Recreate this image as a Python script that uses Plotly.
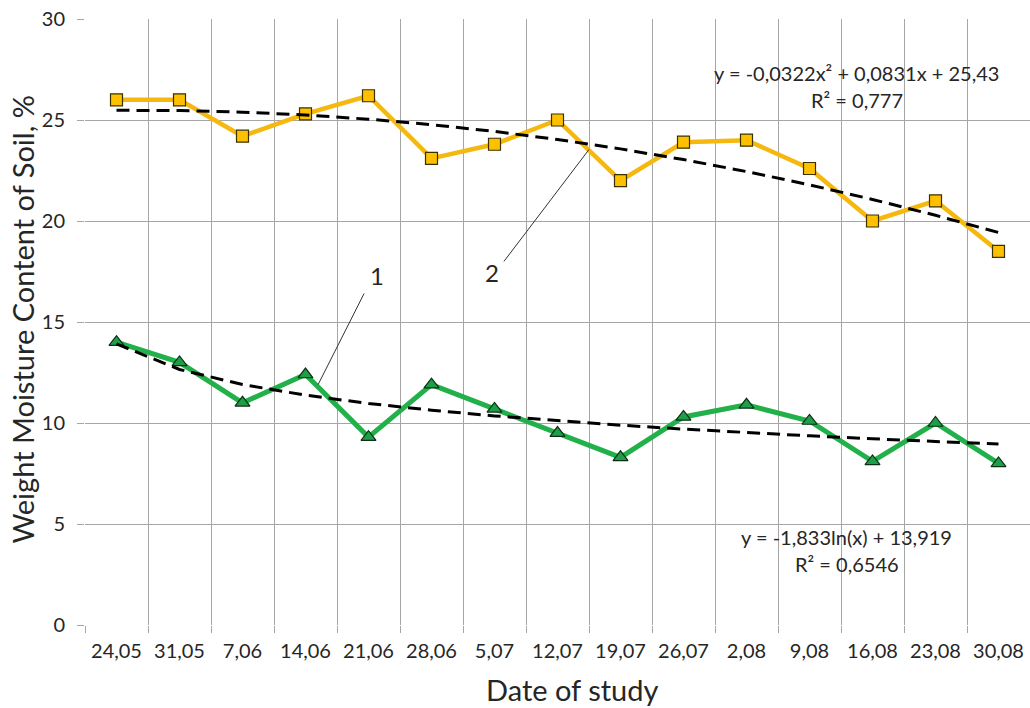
import numpy as np
import plotly.graph_objects as go

dates = ["24,05", "31,05", "7,06", "14,06", "21,06", "28,06", "5,07", "12,07",
         "19,07", "26,07", "2,08", "9,08", "16,08", "23,08", "30,08"]
series2 = [26.0, 26.0, 24.2, 25.3, 26.2, 23.1, 23.8, 25.0, 22.0, 23.9, 24.0, 22.6, 20.0, 21.0, 18.5]
series1 = [14.0, 13.0, 11.0, 12.4, 9.3, 11.9, 10.7, 9.5, 8.3, 10.3, 10.9, 10.1, 8.1, 10.0, 8.0]

# trendline coefficients as displayed in the chart
poly_a, poly_b, poly_c = -0.0322, 0.0831, 25.43
log_a, log_b = -1.833, 13.919

FONT = "Lato"
TXT = "#262626"
GRID = "#A6A6A6"

idx = np.arange(len(dates))
xn = idx + 1  # Excel trendline x (1-based)
trend2 = poly_a * xn**2 + poly_b * xn + poly_c
trend1 = log_a * np.log(xn) + log_b

fig = go.Figure()
fig.add_trace(go.Scatter(x=idx, y=series2, mode="lines+markers",
                         line=dict(color="#F5B80F", width=4.5),
                         marker=dict(symbol="square", size=12, color="#FFC000",
                                     line=dict(color="#3A3000", width=1.2)),
                         showlegend=False))
fig.add_trace(go.Scatter(x=idx, y=trend2, mode="lines",
                         line=dict(color="black", width=3, dash="13px,7px"),
                         showlegend=False))
fig.add_trace(go.Scatter(x=idx, y=series1, mode="lines+markers",
                         line=dict(color="#22B04A", width=5),
                         marker=dict(symbol="triangle-up", size=13, color="#1E9E48",
                                     line=dict(color="#0B3015", width=1.2)),
                         showlegend=False))
fig.add_trace(go.Scatter(x=idx, y=trend1, mode="lines",
                         line=dict(color="black", width=3, dash="13px,7px"),
                         showlegend=False))

# leader lines for labels 1 and 2
fig.add_shape(type="line", x0=3.93, y0=16.41, x1=3.20, y1=11.9,
              line=dict(color="#333333", width=1))
fig.add_shape(type="line", x0=6.15, y0=18.0, x1=7.5, y1=23.54,
              line=dict(color="#333333", width=1))

ann = [
    dict(x=4.13, y=17.3, text="1", size=24),
    dict(x=5.96, y=17.45, text="2", size=24),
    dict(x=11.75, y=27.35, text="y = -0,0322x² + 0,0831x + 25,43", size=20),
    dict(x=11.75, y=26.0, text="R² = 0,777", size=20),
    dict(x=11.58, y=4.38, text="y = -1,833ln(x) + 13,919", size=20),
    dict(x=11.6, y=3.0, text="R² = 0,6546", size=20),
]
for a in ann:
    fig.add_annotation(x=a["x"], y=a["y"], text=a["text"], showarrow=False,
                       xref="x", yref="y", xanchor="center", yanchor="middle",
                       font=dict(family=FONT, size=a["size"], color=TXT))

# axis titles
fig.add_annotation(x=0.515, y=-0.107, xref="paper", yref="paper", text="Date of study",
                   showarrow=False, xanchor="center", yanchor="middle",
                   font=dict(family=FONT, size=29, color=TXT))
fig.add_annotation(x=-0.0656, y=0.504, xref="paper", yref="paper",
                   text="Weight Moisture Content of Soil, %", textangle=-90,
                   showarrow=False, xanchor="center", yanchor="middle",
                   font=dict(family=FONT, size=29, color=TXT))

fig.update_layout(
    width=1030, height=708,
    margin=dict(l=85, r=0, t=19, b=83),
    paper_bgcolor="white", plot_bgcolor="white",
    font=dict(family=FONT, color=TXT),
)
fig.update_xaxes(
    range=[-0.5, 14.5], tickmode="array", tickvals=list(idx), ticktext=dates,
    ticks="", showgrid=False, zeroline=False, showline=False, automargin=False,
    tickfont=dict(family=FONT, size=20, color=TXT), ticklabelstandoff=12,
    minor=dict(tickmode="array", tickvals=[i - 0.5 for i in range(len(dates) + 1)],
               ticks="outside", ticklen=7, tickcolor=GRID, tickwidth=1,
               showgrid=True, gridcolor=GRID, gridwidth=1),
)
fig.update_yaxes(
    range=[0, 30], dtick=5, tick0=0, ticks="outside", ticklen=7, tickcolor=GRID,
    showgrid=True, gridcolor=GRID, gridwidth=1, zeroline=False, showline=False,
    automargin=False,
    tickfont=dict(family=FONT, size=20, color=TXT), ticklabelstandoff=8,
)

fig.write_html("out.html", config={"displayModeBar": False},
               post_script="document.body.style.margin='0';")
